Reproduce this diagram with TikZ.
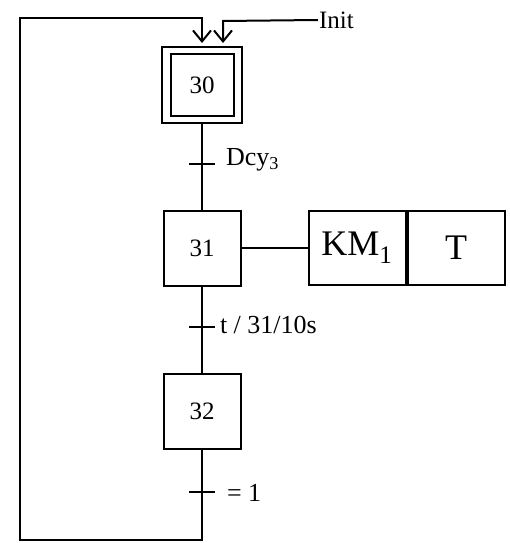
\documentclass[tikz,border=0pt]{standalone}
\usepackage{fontspec}
\setmainfont{Liberation Serif}
\usetikzlibrary{arrows.meta,positioning}

\begin{document}
\begin{tikzpicture}[x=1pt,y=-1pt,line width=2pt,
  etape/.style={draw,minimum width=77pt,minimum height=75pt,inner sep=0pt,font=\fontsize{25}{27}\selectfont},
  action/.style={draw,minimum width=97pt,minimum height=74pt,inner sep=0pt,font=\fontsize{36}{38}\selectfont},
  cond/.style={inner sep=0pt,anchor=west,font=\fontsize{26}{28}\selectfont},
  fleche/.style={-{Straight Barb[length=11pt,width=18pt,line width=2pt]},shorten >=3pt}]
\useasboundingbox (0,0) rectangle (509,543);
% Steps
\node[etape,minimum width=80pt,minimum height=76pt] (s30) at (202,85) {};
\node[draw,minimum width=63pt,minimum height=62pt,inner sep=0pt,font=\fontsize{25}{27}\selectfont] (s30i) at (s30) {30};
\node[etape] (s31) at (202,248) {31};
\node[etape] (s32) at (202,411) {32};
% Actions
\node[action] (km) at (357,248) {KM\textsubscript{1}};
\node[action,anchor=west] (tempo) at (km.east) {T};
\draw (s31) -- (km);
% Links
\coordinate (in1) at (202,18);
\coordinate (in2) at (223,21);
\coordinate (bas) at (202,540);
\draw (s30) -- (s31);
\draw (s31) -- (s32);
\draw[fleche] (s32.south) -- (bas) -- ++(-182,0) |- (in1) -- (s30.north);
\node[font=\fontsize{25}{27}\selectfont,inner sep=0pt,anchor=west] (init) at (318,20) {Init};
\draw[fleche] (init.west) -- (in2) -- (s30.north -| in2);
% Transitions
\coordinate (t1) at (202,164);
\coordinate (t2) at (202,327);
\coordinate (t3) at (202,492);
\foreach \t in {t1,t2,t3}
  \draw[line width=1.6pt] (\t) ++(-13,0) -- ++(26,0);
\node[cond] (c1) at (225,160) {Dcy\textsubscript{3}};
\node[cond] (c2) at (219,325) {t / 31/10s};
\node[cond] (c3) at (226,493) {= 1};
\end{tikzpicture}
\end{document}
